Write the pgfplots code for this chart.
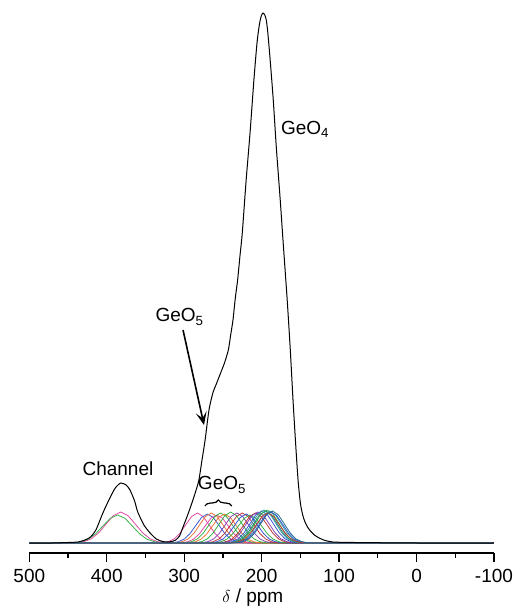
\documentclass[border=0pt]{standalone}
\usepackage{fontspec}
\setmainfont{Liberation Sans}
\usepackage{pgfplots}
\pgfplotsset{compat=1.18}
\usetikzlibrary{arrows.meta,decorations.pathreplacing}
\definecolor{cpink}{HTML}{E040A0}
\definecolor{cblue}{HTML}{3050D0}
\definecolor{corange}{HTML}{F07030}
\definecolor{cgreen}{HTML}{30B040}
\definecolor{cpurple}{HTML}{8040B0}
\definecolor{cred}{HTML}{C03030}
\definecolor{cteal}{HTML}{30A0A0}
\definecolor{cdteal}{HTML}{207878}
\definecolor{cdcyan}{HTML}{1E6A8A}
\begin{document}
\fontsize{19}{22}\selectfont
\begin{tikzpicture}
\begin{axis}[
  at={(29.3pt,56pt)}, anchor=south west,
  scale only axis, width=464.7pt, height=548pt,
  xmin=-100, xmax=500, x dir=reverse, ymin=-10, ymax=538,
  axis x line*=bottom, axis y line=none,
  xtick={-100,0,100,200,300,400,500}, minor xtick={-50,50,150,250,350,450},
  tick align=outside, major tick length=9pt, minor tick length=5pt,
  every tick/.style={black, line width=1.2pt},
  axis line style={line width=1.3pt},
  xticklabel style={yshift=-5pt, inner sep=2pt},
  /pgf/number format/assume math mode=true,
  xlabel={$\delta$ / ppm},
  xlabel style={at={(axis description cs:0.481,0)}, anchor=center, inner sep=1pt, yshift=-45pt},
  clip=false,
  every axis plot/.append style={line width=0.75pt},
]
% channel components
\addplot[cpink] coordinates {(-100,0)(314,0)(325,0.34)(334.5,1.36)(344,4.19)(353.5,10.07)(363,18.8)(372.5,27.36)(382,31)(391.5,27.36)(401,18.8)(410.5,10.07)(420,4.19)(429.5,1.36)(439,0.34)(450,0)(500,0)};
\addplot[cgreen] coordinates {(-100,0)(318,0)(329,0.31)(338.5,1.23)(348,3.79)(357.5,9.09)(367,16.98)(376.5,24.71)(386,28)(395.5,24.71)(405,16.98)(414.5,9.09)(424,3.79)(433.5,1.23)(443,0.31)(454,0)(500,0)};
% GeO5 components
\addplot[cpink] coordinates {(-100,0)(228,0)(238,0.33)(245.5,1.32)(253,4.06)(260.5,9.74)(268,18.2)(275.5,26.48)(283,30)(290.5,26.48)(298,18.2)(305.5,9.74)(313,4.06)(320.5,1.32)(328,0.33)(338,0)(500,0)};
\addplot[cblue] coordinates {(-100,0)(215,0)(225,0.32)(232.5,1.27)(240,3.92)(247.5,9.42)(255,17.59)(262.5,25.59)(270,29)(277.5,25.59)(285,17.59)(292.5,9.42)(300,3.92)(307.5,1.27)(315,0.32)(325,0)(500,0)};
\addplot[corange] coordinates {(-100,0)(210,0)(220,0.33)(227.5,1.32)(235,4.06)(242.5,9.74)(250,18.2)(257.5,26.48)(265,30)(272.5,26.48)(280,18.2)(287.5,9.74)(295,4.06)(302.5,1.32)(310,0.33)(320,0)(500,0)};
\addplot[cpink] coordinates {(-100,0)(203,0)(213,0.31)(220.5,1.23)(228,3.79)(235.5,9.09)(243,16.98)(250.5,24.71)(258,28)(265.5,24.71)(273,16.98)(280.5,9.09)(288,3.79)(295.5,1.23)(303,0.31)(313,0)(500,0)};
\addplot[cgreen] coordinates {(-100,0)(198,0)(208,0.33)(215.5,1.32)(223,4.06)(230.5,9.74)(238,18.2)(245.5,26.48)(253,30)(260.5,26.48)(268,18.2)(275.5,9.74)(283,4.06)(290.5,1.32)(298,0.33)(308,0)(500,0)};
\addplot[corange] coordinates {(-100,0)(193,0)(203,0.32)(210.5,1.27)(218,3.92)(225.5,9.42)(233,17.59)(240.5,25.59)(248,29)(255.5,25.59)(263,17.59)(270.5,9.42)(278,3.92)(285.5,1.27)(293,0.32)(303,0)(500,0)};
\addplot[cgreen] coordinates {(-100,0)(185,0)(195,0.34)(202.5,1.36)(210,4.19)(217.5,10.07)(225,18.8)(232.5,27.36)(240,31)(247.5,27.36)(255,18.8)(262.5,10.07)(270,4.19)(277.5,1.36)(285,0.34)(295,0)(500,0)};
\addplot[cpurple] coordinates {(-100,0)(177,0)(187,0.33)(194.5,1.32)(202,4.06)(209.5,9.74)(217,18.2)(224.5,26.48)(232,30)(239.5,26.48)(247,18.2)(254.5,9.74)(262,4.06)(269.5,1.32)(277,0.33)(287,0)(500,0)};
\addplot[cred] coordinates {(-100,0)(170,0)(180,0.33)(187.5,1.32)(195,4.06)(202.5,9.74)(210,18.2)(217.5,26.48)(225,30)(232.5,26.48)(240,18.2)(247.5,9.74)(255,4.06)(262.5,1.32)(270,0.33)(280,0)(500,0)};
\addplot[cblue] coordinates {(-100,0)(165,0)(175,0.32)(182.5,1.27)(190,3.92)(197.5,9.42)(205,17.59)(212.5,25.59)(220,29)(227.5,25.59)(235,17.59)(242.5,9.42)(250,3.92)(257.5,1.27)(265,0.32)(275,0)(500,0)};
\addplot[cgreen] coordinates {(-100,0)(160,0)(170,0.31)(177.5,1.23)(185,3.79)(192.5,9.09)(200,16.98)(207.5,24.71)(215,28)(222.5,24.71)(230,16.98)(237.5,9.09)(245,3.79)(252.5,1.23)(260,0.31)(270,0)(500,0)};
% GeO4 components
\addplot[cred] coordinates {(-100,0)(153,0)(163,0.33)(170.5,1.32)(178,4.06)(185.5,9.74)(193,18.2)(200.5,26.48)(208,30)(215.5,26.48)(223,18.2)(230.5,9.74)(238,4.06)(245.5,1.32)(253,0.33)(263,0)(500,0)};
\addplot[cpurple] coordinates {(-100,0)(150,0)(160,0.34)(167.5,1.36)(175,4.19)(182.5,10.07)(190,18.8)(197.5,27.36)(205,31)(212.5,27.36)(220,18.8)(227.5,10.07)(235,4.19)(242.5,1.36)(250,0.34)(260,0)(500,0)};
\addplot[cblue] coordinates {(-100,0)(145,0)(155,0.36)(162.5,1.4)(170,4.33)(177.5,10.39)(185,19.41)(192.5,28.24)(200,32)(207.5,28.24)(215,19.41)(222.5,10.39)(230,4.33)(237.5,1.4)(245,0.36)(255,0)(500,0)};
\addplot[cteal] coordinates {(-100,0)(142,0)(152,0.37)(159.5,1.45)(167,4.46)(174.5,10.72)(182,20.01)(189.5,29.12)(197,33)(204.5,29.12)(212,20.01)(219.5,10.72)(227,4.46)(234.5,1.45)(242,0.37)(252,0)(500,0)};
\addplot[cdteal] coordinates {(-100,0)(140,0)(150,0.36)(157.5,1.4)(165,4.33)(172.5,10.39)(180,19.41)(187.5,28.24)(195,32)(202.5,28.24)(210,19.41)(217.5,10.39)(225,4.33)(232.5,1.4)(240,0.36)(250,0)(500,0)};
\addplot[cgreen] coordinates {(-100,0)(138,0)(148,0.37)(155.5,1.45)(163,4.46)(170.5,10.72)(178,20.01)(185.5,29.12)(193,33)(200.5,29.12)(208,20.01)(215.5,10.72)(223,4.46)(230.5,1.45)(238,0.37)(248,0)(500,0)};
\addplot[cteal] coordinates {(-100,0)(135,0)(145,0.36)(152.5,1.4)(160,4.33)(167.5,10.39)(175,19.41)(182.5,28.24)(190,32)(197.5,28.24)(205,19.41)(212.5,10.39)(220,4.33)(227.5,1.4)(235,0.36)(245,0)(500,0)};
\addplot[cblue] coordinates {(-100,0)(133,0)(143,0.34)(150.5,1.36)(158,4.19)(165.5,10.07)(173,18.8)(180.5,27.36)(188,31)(195.5,27.36)(203,18.8)(210.5,10.07)(218,4.19)(225.5,1.36)(233,0.34)(243,0)(500,0)};
\addplot[cred] coordinates {(-100,0)(137,0)(147,0.33)(154.5,1.32)(162,4.06)(169.5,9.74)(177,18.2)(184.5,26.48)(192,30)(199.5,26.48)(207,18.2)(214.5,9.74)(222,4.06)(229.5,1.32)(237,0.33)(247,0)(500,0)};
\addplot[cdcyan] coordinates {(-100,0)(131,0)(141,0.36)(148.5,1.4)(156,4.33)(163.5,10.39)(171,19.41)(178.5,28.24)(186,32)(193.5,28.24)(201,19.41)(208.5,10.39)(216,4.33)(223.5,1.4)(231,0.36)(241,0)(500,0)};
% total spectrum
\addplot[black, line width=1pt, smooth, tension=0.4] coordinates {
(500,0)(470,0)(450,0.5)(437,1)(428,3)(421,6)(414,13)(405,30)(396,45)(389,55)(382,60)(375,58)(370,53)(364,42)(360,31)(352,18)(344,10)(336,4)(328,1.5)(322,1)(316,1.5)(311,3)(306,7)(303,13)(296,27)(290,40)(285,52)(281,63)(277,83)(273,103)(268,133)(263,150)(258,160)(254,168)(248,180)(243,193)(240,208)(237,223)(234,245)(231,263)(228,287)(225,310)(220,363)(215,410)(210,463)(206,500)(203,518)(200.5,527)(198.3,530)(196,528)(194,523)(192,510)(189,483)(185,443)(181,395)(176,343)(172,298)(167,243)(163,193)(159.5,143)(156,98)(153,63)(150,40)(147,28)(144,21)(140,15)(137,12)(132,8)(128,6)(120,3)(108,1)(80,0.5)(0,0)(-100,0)};
% annotations
\node at (axis cs:385.5,74) {Channel};
\node at (axis cs:144,414) {GeO\textsubscript{4}};
\node at (axis cs:306,226) {GeO\textsubscript{5}};
\node at (axis cs:251.2,58) {GeO\textsubscript{5}};
\draw[line width=1.6pt, -{Stealth[length=13pt,width=11pt,inset=6pt]}] (axis cs:301.5,213) -- (axis cs:274.4,118);
\draw[line width=1.2pt, decorate, decoration={brace, amplitude=6pt}] (axis cs:273.3,37) -- (axis cs:238.5,37);
\end{axis}
\path (0,0) rectangle (519pt,609pt);
\end{tikzpicture}
\end{document}
